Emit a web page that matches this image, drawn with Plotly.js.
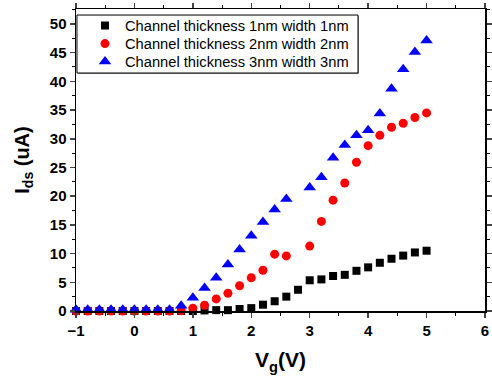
<!DOCTYPE html>
<html>
<head>
<meta charset="utf-8">
<script src="https://cdn.plot.ly/plotly-3.0.1.min.js"></script>
<style>html,body{margin:0;padding:0;background:#fff;}#chart{width:492px;height:380px;}</style>
</head>
<body>
<div id="chart"></div>
<script>
var vg = [-1,-0.8,-0.6,-0.4,-0.2,0,0.2,0.4,0.6,0.8,1,1.2,1.4,1.6,1.8,2,2.2,2.4,2.6,2.8,3,3.2,3.4,3.6,3.8,4,4.2,4.4,4.6,4.8,5];
var ids1nm = [0,0,0,0,0,0,0,0,0,0,0,0.1,0.15,0.15,0.35,0.5,1.1,1.7,2.5,3.7,5.35,5.5,6.1,6.3,7.0,7.6,8.4,9.1,9.65,10.2,10.5];
var ids2nm = [0,0,0,0,0,0,0,0,0,0.05,0.5,1.0,2.1,3.1,4.4,5.8,7.1,9.9,9.6,null,11.3,15.6,19.3,22.3,25.9,28.8,30.6,32.0,32.7,33.7,34.5];
var ids3nm = [0.2,0.2,0.2,0.2,0.2,0.2,0.2,0.2,0.2,0.9,2.3,4.0,5.8,8.1,10.7,13.1,15.5,17.7,19.5,null,21.5,23.3,26.7,28.9,30.6,31.5,34.4,38.7,42.1,45.1,47.1];
var seriesNames = ["Channel thickness 1nm width 1nm","Channel thickness 2nm width 2nm","Channel thickness 3nm width 3nm"];
var xTickVals = [-1,0,1,2,3,4,5,6];
var yTickVals = [0,5,10,15,20,25,30,35,40,45,50];

var traces = [
  {x: vg, y: ids1nm, name: seriesNames[0], mode: 'markers', type: 'scatter', cliponaxis: false, legend: 'legend',
   marker: {symbol: 'square', size: 8, color: '#000000'}},
  {x: vg, y: ids2nm, name: seriesNames[1], mode: 'markers', type: 'scatter', cliponaxis: false, legend: 'legend2',
   marker: {symbol: 'circle', size: 9, color: '#ff0000'}},
  {x: vg, y: ids3nm, name: seriesNames[2], mode: 'markers', type: 'scatter', cliponaxis: false, legend: 'legend3',
   marker: {symbol: 'triangle-up', size: 11, color: '#0000ff'}}
];

var fam = 'Liberation Sans, Arial, sans-serif';
var tickFont = {family: fam, size: 15, color: '#000', weight: 'bold'};
function leg(y) {
  return {x: 0.022, y: y, xanchor: 'left', yanchor: 'middle', bgcolor: 'rgba(0,0,0,0)',
    borderwidth: 0, font: {family: fam, size: 14.7, color: '#000'}, itemwidth: 30};
}
var layout = {
  width: 492, height: 380,
  margin: {l: 76, r: 7, t: 9, b: 69},
  paper_bgcolor: '#fff', plot_bgcolor: '#fff',
  showlegend: true,
  legend: leg(0.9437), legend2: leg(0.884), legend3: leg(0.8245),
  shapes: [
    {type: 'rect', xref: 'paper', yref: 'paper', x0: 0.0049, x1: 0.692, y0: 0.785, y1: 0.977,
     line: {width: 0}, fillcolor: '#9a9a9a', layer: 'above'},
    {type: 'rect', xref: 'paper', yref: 'paper', x0: 0.0024, x1: 0.6895, y0: 0.788, y1: 0.980,
     line: {width: 1, color: '#000'}, fillcolor: '#fff', layer: 'above'}
  ],
  xaxis: {range: [-1, 6], tickvals: xTickVals, ticks: 'outside', ticklen: 5, tickwidth: 1.5,
    showline: true, linecolor: '#000', linewidth: 1.5, mirror: 'ticks', showgrid: false, zeroline: false,
    tickfont: tickFont,
    minor: {dtick: 0.5, ticks: 'outside', ticklen: 3, tickwidth: 1, tickcolor: '#000', showgrid: false},
    title: {text: 'V<sub>g</sub>(V)', standoff: 15,
      font: {family: fam, size: 21, color: '#000', weight: 'bold'}}},
  yaxis: {range: [0, 52.6], tickvals: yTickVals, ticks: 'outside', ticklen: 5, tickwidth: 1.5,
    showline: true, linecolor: '#000', linewidth: 1.5, mirror: 'ticks', showgrid: false, zeroline: false,
    tickfont: tickFont,
    minor: {dtick: 2.5, ticks: 'outside', ticklen: 3, tickwidth: 1, tickcolor: '#000', showgrid: false},
    title: {text: 'I<sub>ds</sub> (uA)', standoff: 15,
      font: {family: fam, size: 20, color: '#000', weight: 'bold'}}}
};

Plotly.newPlot('chart', traces, layout, {staticPlot: true, displayModeBar: false});
</script>
</body>
</html>
